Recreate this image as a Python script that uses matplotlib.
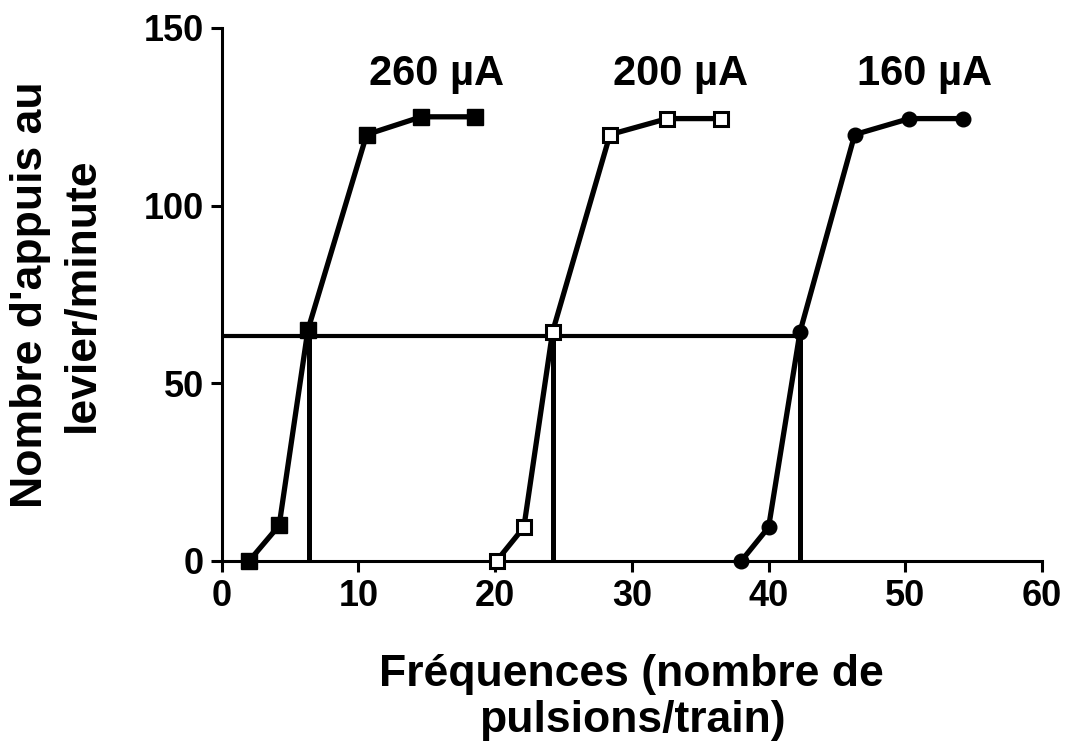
import matplotlib
matplotlib.use("Agg")
import matplotlib.pyplot as plt

plt.rcParams["font.family"] = ["Liberation Sans", "DejaVu Sans"]
plt.rcParams["font.weight"] = "bold"

# 260 uA (filled squares)
x_260 = [2.0, 4.2, 6.3, 10.6, 14.6, 18.5]
y_260 = [0, 10, 65, 120, 125, 125]
# 200 uA (open squares)
x_200 = [20.1, 22.1, 24.2, 28.4, 32.6, 36.5]
y_200 = [0, 9.5, 64.5, 120, 124.5, 124.5]
# 160 uA (filled circles)
x_160 = [38.0, 40.0, 42.3, 46.3, 50.3, 54.2]
y_160 = [0, 9.5, 64.5, 120, 124.5, 124.5]

labels = ["260 \u00b5A", "200 \u00b5A", "160 \u00b5A"]
label_x = [10.8, 28.6, 46.5]
label_y = 137

half_max = 63.3
half_max_x = [6.4, 24.2, 42.3]

fig = plt.figure(figsize=(10.66, 7.46), dpi=100)
ax = fig.add_axes([0.208, 0.248, 0.7695, 0.7145])

lw = 3.8
ax.plot(x_260, y_260, color="black", lw=lw, marker="s", ms=11,
        mfc="black", mec="black", zorder=3, clip_on=False)
ax.plot(x_200, y_200, color="black", lw=lw, marker="s", ms=10,
        mfc="white", mec="black", mew=2.2, zorder=3, clip_on=False)
ax.plot(x_160, y_160, color="black", lw=lw, marker="o", ms=10.5,
        mfc="black", mec="black", zorder=3, clip_on=False)

# 50% reference lines
ax.plot([0, half_max_x[-1]], [half_max, half_max], color="black", lw=3, zorder=2)
for xv in half_max_x:
    ax.plot([xv, xv], [0, half_max], color="black", lw=3.6, zorder=2)

for lx, lab in zip(label_x, labels):
    ax.text(lx, label_y, lab, fontsize=30, fontweight="bold", va="center", ha="left")

ax.set_xlim(0, 60)
ax.set_ylim(0, 150)
ax.set_xticks([0, 10, 20, 30, 40, 50, 60])
ax.set_yticks([0, 50, 100, 150])
for s in ["top", "right"]:
    ax.spines[s].set_visible(False)
for s in ["left", "bottom"]:
    ax.spines[s].set_linewidth(2.2)
ax.tick_params(direction="out", length=8, width=2.2, labelsize=26, pad=5)
for t in ax.get_xticklabels() + ax.get_yticklabels():
    t.set_fontweight("bold")

ax.set_xlabel("Fréquences (nombre de\npulsions/train)", fontsize=32,
              fontweight="bold", labelpad=29, linespacing=1.15)
ax.set_ylabel("Nombre d'appuis au\nlevier/minute", fontsize=32,
              fontweight="bold", labelpad=29, linespacing=1.35)

fig.savefig("out.png", dpi=100)
